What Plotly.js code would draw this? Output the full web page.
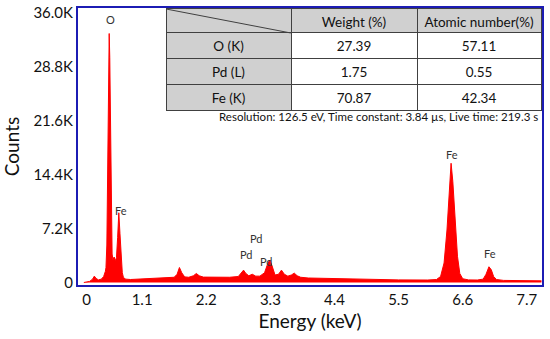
<!DOCTYPE html>
<html>
<head>
<meta charset="utf-8">
<script src="https://cdn.plot.ly/plotly-3.0.1.min.js"></script>
<style>html,body{margin:0;padding:0;background:#fff;}#chart{width:550px;height:339px;}</style>
</head>
<body>
<div id="chart"></div>
<script>
// Spectrum (energy in keV, counts)
const energy = [0.10,0.15,0.20,0.25,0.28,0.31,0.35,0.40,0.44,0.47,0.48,0.495,0.505,0.515,0.525,0.535,0.545,0.555,0.565,0.575,0.585,0.60,0.62,0.64,0.66,0.68,0.70,0.72,0.74,0.76,0.78,0.82,0.90,1.00,1.20,1.40,1.55,1.65,1.70,1.74,1.78,1.83,1.90,1.98,2.03,2.08,2.15,2.40,2.60,2.75,2.80,2.84,2.88,2.93,2.99,3.05,3.12,3.20,3.25,3.29,3.33,3.38,3.44,3.49,3.54,3.60,3.66,3.71,3.76,3.82,3.95,4.20,4.50,5.00,5.50,6.00,6.15,6.22,6.28,6.33,6.37,6.40,6.43,6.47,6.51,6.55,6.60,6.70,6.85,6.95,7.00,7.05,7.09,7.13,7.18,7.30,7.50,7.80,7.95];
const counts = [0,50,150,450,850,550,350,450,800,1500,2000,5000,12000,22000,30500,33200,30000,22000,12000,6000,3800,3000,3400,2900,3300,6000,9300,6500,3000,1300,650,450,400,430,480,550,600,700,1100,2000,1300,750,700,900,1200,900,720,700,700,800,1200,1650,1200,900,1100,850,850,1300,2400,3000,2200,1000,1100,1650,1100,850,1000,1250,900,700,600,550,500,400,350,330,400,800,2600,7000,12500,15900,13500,8000,3500,1200,500,350,330,450,1100,2100,1700,800,400,280,250,230,220];

// Peak identification labels
const peakNames = ["O","Fe","Pd","Pd","Pd","Fe","Fe"];
const peakE = [0.566,0.74,2.88,3.05,3.22,6.42,7.07];
const peakC = [35100,9600,3670,5900,2800,17100,3900];

// Axis ticks
const xTicks = [0,1.1,2.2,3.3,4.4,5.5,6.6,7.7];
const xTickText = ["\u2007\u20070","1.1","2.2","3.3","4.4","5.5","6.6","7.7"];
const yTickVals = [0,7200,14400,21600,28800,36000];
const yTickText = ["0","7.2K","14.4K","21.6K","28.8K","36.0K"];

// Quantification table
const tableHeader = ["","Weight\u00A0(%)","Atomic\u00A0number(%)"];
const elements = ["O\u00A0(K)","Pd\u00A0(L)","Fe\u00A0(K)"];
const weightPct = ["27.39","1.75","70.87"];
const atomicPct = ["57.11","0.55","42.34"];
const infoText = "Resolution: 126.5 eV, Time constant: 3.84 µs, Live time: 219.3 s";

const FONT = "Lato, 'Open Sans', sans-serif";
const gray = "#d0d0d0";

const traces = [
  {
    type: "scatter", mode: "lines", x: energy, y: counts,
    fill: "tozeroy", fillcolor: "#ff0000",
    line: {color: "#ff0000", width: 1},
    hoverinfo: "skip", showlegend: false
  },
  {
    type: "table",
    domain: {x: [0.1897, 0.998], y: [0.55, 0.9964]},
    columnwidth: [125, 126, 124],
    header: {
      values: tableHeader,
      fill: {color: gray},
      line: {color: "#404040", width: 1},
      align: "center",
      height: 24,
      font: {family: FONT, size: 13.5, color: "#111"}
    },
    cells: {
      values: [elements, weightPct, atomicPct],
      fill: {color: [[gray,gray,gray], ["#fff","#fff","#fff"], ["#fff","#fff","#fff"]]},
      line: {color: "#404040", width: 1},
      align: "center",
      height: 26,
      font: {family: FONT, size: 13.5, color: "#111"}
    }
  }
];

const annotations = peakNames.map((t, i) => ({
  x: peakE[i], y: peakC[i], xref: "x", yref: "y", text: t, showarrow: false,
  font: {family: FONT, size: 11, color: "#333"}, xanchor: "center", yanchor: "middle"
}));
annotations.push({
  x: 0.9957, y: 0.6065, xref: "paper", yref: "paper", text: infoText, showarrow: false,
  xanchor: "right", yanchor: "middle", font: {family: FONT, size: 11.5, color: "#111"}
});

const layout = {
  width: 550, height: 339,
  margin: {l: 78, r: 8, t: 8, b: 54},
  paper_bgcolor: "#fff", plot_bgcolor: "#fff",
  font: {family: FONT, color: "#111"},
  showlegend: false,
  xaxis: {
    range: [0, 7.96], tickvals: xTicks, ticktext: xTickText,
    showgrid: false, zeroline: false, showline: true, mirror: true,
    linecolor: "#1c1cb4", linewidth: 2, ticks: "",
    tickfont: {size: 15, family: FONT, color: "#111"},
    title: {text: "Energy (keV)", font: {size: 19, family: FONT, color: "#111"}, standoff: 8}
  },
  yaxis: {
    range: [-333, 36600], tickvals: yTickVals, ticktext: yTickText,
    showgrid: false, zeroline: false, showline: true, mirror: true,
    linecolor: "#1c1cb4", linewidth: 2, ticks: "",
    tickfont: {size: 15, family: FONT, color: "#111"},
    title: {text: "Counts", font: {size: 19, family: FONT, color: "#111"}, standoff: 10}
  },
  shapes: [{
    type: "line", xref: "paper", yref: "paper",
    x0: 0.1897, y0: 0.9964, x1: 0.4587, y1: 0.9097,
    line: {color: "#404040", width: 1}
  }],
  annotations: annotations
};

Plotly.newPlot("chart", traces, layout, {displayModeBar: false, staticPlot: true});
</script>
</body>
</html>
